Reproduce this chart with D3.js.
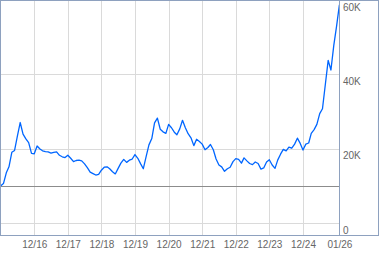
<!DOCTYPE html>
<html>
<head>
<meta charset="utf-8">
<script src="https://cdn.jsdelivr.net/npm/d3@7"></script>
<style>
  html, body { margin: 0; padding: 0; background: #fff; }
  svg { display: block; }
  .tick text { font-family: "Liberation Sans", Arial, sans-serif; font-size: 10px; fill: #666; }
</style>
</head>
<body>
<svg id="chart" width="379" height="255"></svg>
<script>
// monthly closes, Dec 2015 .. Jan 2026
const startMonth = "2015-12-01";
const closes = [
  10070, 10700, 13600, 15200, 19100, 19600, 23500, 27100, 24000, 22700,
  21700, 18800, 18700, 20800, 20000, 19500, 19300, 19200, 18900, 19100,
  19200, 18300, 17900, 17700, 18300, 17500, 16600, 16900, 17000, 16800,
  16000, 15000, 13800, 13400, 13000, 13200, 14300, 15100, 15200, 14700,
  13900, 13300, 14800, 16200, 17200, 16400, 17000, 17300, 18500, 17500,
  16000, 14700, 18000, 21100, 22800, 27000, 28300, 25300, 24600, 24200,
  26600, 25700, 24500, 23800, 25400, 27700, 25700, 24100, 23000, 20900,
  22600, 22000, 21300, 19800, 20400, 21200, 19800, 17300, 15700, 15200,
  14000, 14700, 15100, 16600, 17400, 17200, 16200, 17600, 16800, 16100,
  15800, 16500, 16100, 14600, 14900, 16500, 17100, 15700, 14800, 17000,
  18600, 19900, 19500, 20500, 20200, 21300, 22900, 21500, 19700, 21300,
  21600, 24200, 25200, 26600, 29500, 30800, 37300, 43800, 41200, 47800,
  52900, 58700
];
const refLevel = 10070;   // flat reference line (first close)
const yTicks = [0, 20000, 40000, 60000];
const xTickDates = ["2016-12-01", "2017-12-01", "2018-12-01", "2019-12-01", "2020-12-01",
                    "2021-12-01", "2022-12-01", "2023-12-01", "2024-12-01", "2026-01-01"];

const W = 379, H = 255,
      plotRight = 339, plotBottom = 235;

const parse = d3.utcParse("%Y-%m-%d");
const t0 = parse(startMonth);
const data = closes.map((v, i) => ({ date: d3.utcMonth.offset(t0, i), value: v }));
const tickDates = xTickDates.map(parse);

const x = d3.scaleUtc()
    .domain([t0, parse("2026-01-01")])
    .range([0.6, 339.4]);
const y = d3.scaleLinear()
    .domain([-3100, 60000])
    .range([plotBottom, 0]);

const svg = d3.select("#chart");

/* grid */
const grid = svg.append("g").attr("shape-rendering", "crispEdges");
grid.selectAll(".gx")
    .data(tickDates.slice(0, -1))
    .enter().append("line")
    .attr("x1", d => Math.round(x(d)) + 0.5).attr("x2", d => Math.round(x(d)) + 0.5)
    .attr("y1", 0).attr("y2", plotBottom)
    .attr("stroke", "#dadada");
grid.selectAll(".gy")
    .data(yTicks)
    .enter().append("line")
    .attr("x1", 0).attr("x2", plotRight)
    .attr("y1", d => Math.round(y(d)) + 0.5).attr("y2", d => Math.round(y(d)) + 0.5)
    .attr("stroke", "#dadada");

// reference level
grid.append("line")
    .attr("x1", 0).attr("x2", plotRight)
    .attr("y1", Math.round(y(refLevel)) + 0.5).attr("y2", Math.round(y(refLevel)) + 0.5)
    .attr("stroke", "#8c8c8c");

/* price line */
const line = d3.line()
    .x(d => x(d.date))
    .y(d => y(d.value));
svg.append("path")
    .datum(data)
    .attr("fill", "none")
    .attr("stroke", "#0066ff")
    .attr("stroke-width", 1.3)
    .attr("stroke-linejoin", "round")
    .attr("d", line);

/* frame */
const frame = svg.append("g").attr("shape-rendering", "crispEdges")
    .attr("stroke", "#8ea1bf").attr("fill", "none");
frame.append("rect").attr("x", 0.5).attr("y", 0.5)
    .attr("width", W - 1.5).attr("height", plotBottom);
frame.append("line").attr("x1", 0.5).attr("x2", 0.5).attr("y1", 0).attr("y2", plotBottom);
frame.append("line")
    .attr("x1", plotRight + 0.5).attr("x2", plotRight + 0.5)
    .attr("y1", 0).attr("y2", plotBottom);

/* axes */
const yAxis = d3.axisRight(y)
    .tickValues(yTicks)
    .tickSize(0)
    .tickPadding(4)
    .tickFormat(d => d === 0 ? "0" : d / 1000 + "K");
const gy = svg.append("g")
    .attr("transform", `translate(${plotRight},0)`)
    .call(yAxis);
gy.select(".domain").remove();
gy.selectAll(".tick text").attr("dy", "10px");

const xAxis = d3.axisBottom(x)
    .tickValues(tickDates)
    .tickSize(0)
    .tickPadding(4)
    .tickFormat(d3.utcFormat("%m/%y"));
const gx = svg.append("g")
    .attr("transform", `translate(0,${plotBottom})`)
    .call(xAxis);
gx.select(".domain").remove();
gx.selectAll(".tick text").attr("dy", "8.5px");
</script>
</body>
</html>
